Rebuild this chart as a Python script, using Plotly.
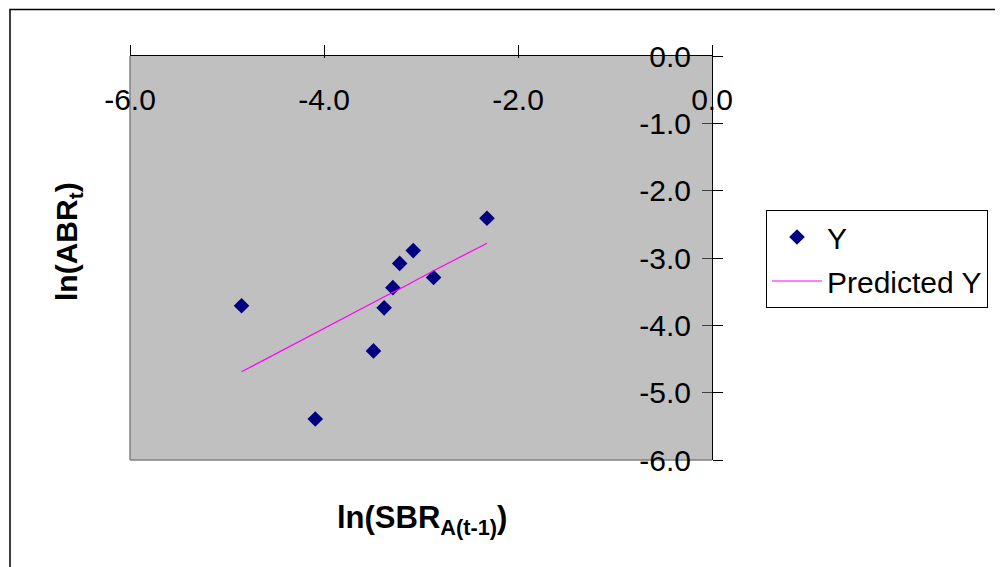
import plotly.graph_objects as go

# Data
x_vals = [-4.85, -4.09, -3.49, -3.38, -3.29, -3.22, -3.08, -2.87, -2.32]
y_vals = [-3.71, -5.39, -4.38, -3.74, -3.44, -3.08, -2.89, -3.29, -2.41]
pred_y = [-4.69, -4.11, -3.66, -3.58, -3.51, -3.46, -3.35, -3.19, -2.78]
x_ticks = [-6, -4, -2, 0]
x_tick_text = ["-6.0", "-4.0", "-2.0", "0.0"]
y_ticks = [0, -1, -2, -3, -4, -5, -6]
y_tick_text = ["0.0", "-1.0", "-2.0", "-3.0", "-4.0", "-5.0", "-6.0"]

OFF = 8  # page body margin offset
W, H = 1003, 567
L, R, T, B = 130 - OFF, 712 - OFF, 56 - OFF, 460 - OFF
pw, ph = R - L, B - T

def px(xp):
    return (xp - OFF - L) / pw

def py(yp):
    return (B - (yp - OFF)) / ph

FONT = "Liberation Sans, Arial, sans-serif"

fig = go.Figure()
fig.add_trace(go.Scatter(
    x=x_vals, y=y_vals, mode="markers", name="Y",
    marker=dict(symbol="diamond", color="#000080", size=12, line=dict(width=0)),
    legendgroup="a",
))
fig.add_trace(go.Scatter(
    x=x_vals, y=pred_y, mode="lines", name="Predicted Y",
    line=dict(color="#FF00FF", width=1.2),
    legendgroup="b",
))
# helper empty trace to show crossing tick marks on overlay axes
fig.add_trace(go.Scatter(x=[], y=[], xaxis="x2", yaxis="y2", showlegend=False, hoverinfo="skip"))

axis_font = dict(family=FONT, size=30, color="black")

fig.update_layout(
    width=W, height=H,
    margin=dict(l=L, r=W - R, t=T, b=H - B, autoexpand=False),
    paper_bgcolor="white",
    plot_bgcolor="#C0C0C0",
    font=dict(family=FONT, color="black"),
    xaxis=dict(
        range=[-6, 0], side="top", tickvals=x_ticks, ticktext=x_tick_text,
        showgrid=False, zeroline=False, automargin=False,
        showline=True, linecolor="black", linewidth=1,
        ticks="outside", ticklen=10, tickcolor="black", tickwidth=1,
        ticklabelposition="inside", ticklabelstandoff=36, ticklabeloverflow="allow",
        tickfont=axis_font,
    ),
    yaxis=dict(
        range=[-6, 0], side="right", tickvals=y_ticks, ticktext=y_tick_text,
        showgrid=False, zeroline=False, automargin=False,
        showline=True, linecolor="black", linewidth=1,
        ticks="outside", ticklen=10, tickcolor="black", tickwidth=1,
        ticklabelposition="inside", ticklabelstandoff=24, ticklabeloverflow="allow",
        tickfont=axis_font,
    ),
    xaxis2=dict(
        range=[-6, 0], side="top", overlaying="x", tickvals=x_ticks,
        showgrid=False, zeroline=False, showline=False, showticklabels=False,
        ticks="inside", ticklen=2, tickcolor="black", automargin=False,
    ),
    yaxis2=dict(
        range=[-6, 0], side="right", overlaying="y", tickvals=y_ticks,
        showgrid=False, zeroline=False, showline=False, showticklabels=False,
        ticks="inside", ticklen=10, tickcolor="#404040", automargin=False,
    ),
    legend=dict(
        x=px(766), y=py(210), xanchor="left", yanchor="top",
        bgcolor="white", bordercolor="black", borderwidth=1,
        font=dict(family=FONT, size=30, color="black"),
        tracegroupgap=2, itemwidth=50,
    ),
    showlegend=True,
)

# plot area border (grey left/bottom)
fig.add_shape(type="line", xref="paper", yref="paper", x0=0, x1=0, y0=0, y1=1,
              line=dict(color="#808080", width=1.5), layer="below")
fig.add_shape(type="line", xref="paper", yref="paper", x0=0, x1=1, y0=0, y1=0,
              line=dict(color="#808080", width=1.5), layer="below")
# outer chart border
fig.add_shape(type="rect", xref="paper", yref="paper",
              x0=px(10), x1=px(1100), y0=py(600), y1=py(9.5),
              line=dict(color="black", width=1.5), fillcolor="rgba(0,0,0,0)")

# axis titles
fig.add_annotation(
    text="<b>ln(SBR<sub>A(t-1)</sub>)</b>", xref="paper", yref="paper",
    x=px(422), y=py(520), showarrow=False, xanchor="center", yanchor="middle",
    font=dict(family=FONT, size=31, color="black"),
)
fig.add_annotation(
    text="<b>ln(ABR<sub>t</sub>)</b>", xref="paper", yref="paper",
    x=px(68), y=py(242), showarrow=False, textangle=-90,
    xanchor="center", yanchor="middle",
    font=dict(family=FONT, size=30, color="black"),
)

fig.write_html("out.html")
